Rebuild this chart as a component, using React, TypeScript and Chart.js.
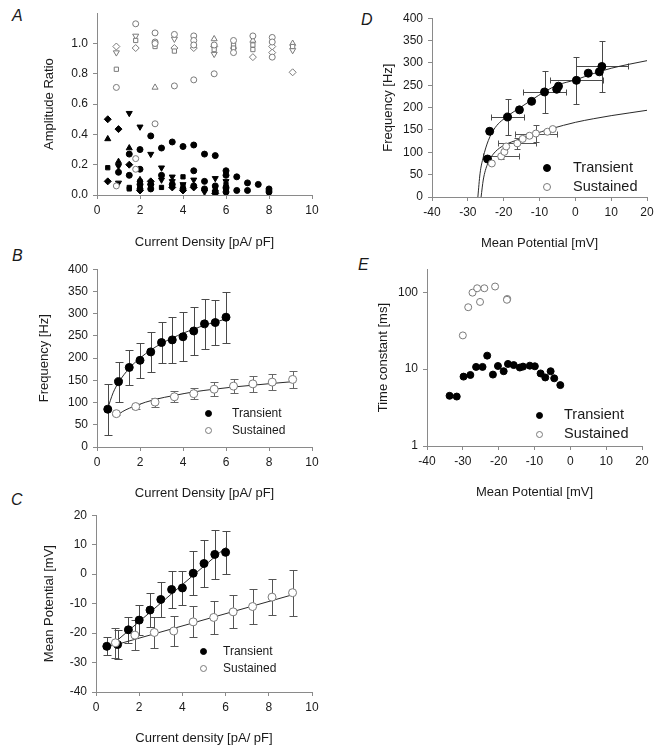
import React, { useEffect, useRef } from "react";
import { Chart, registerables } from "chart.js";
Chart.register(...registerables);

const FONT = "'Liberation Sans', Arial, Helvetica, sans-serif";
const AXIS = "#8a8a8a";
const TEXT = "#1a1a1a";
const OPEN = "#7a7a7a";

// ---------------- Panel A: amplitude ratio (filled = transient, open = sustained) ----------------
const aTrCircle = [[1,0.15],[1.5,0.27],[1.5,0.13],[2,0.30],[2,0.17],[2,0.07],[2,0.04],[2.5,0.39],[2.5,0.07],[2.5,0.04],[3,0.31],[3,0.13],[3.5,0.35],[3.5,0.07],[4,0.32],[4,0.04],[4.5,0.33],[4.5,0.16],[4.5,0.06],[5,0.27],[5,0.09],[5,0.04],[5.5,0.26],[5.5,0.06],[5.5,0.02],[6,0.16],[6,0.13],[6,0.05],[6,0.02],[6.5,0.12],[6.5,0.03],[7,0.08],[7,0.03],[7.5,0.07],[8,0.04],[8,0.02]];
const aTrSquare = [[0.5,0.18],[1.5,0.05],[1.5,0.04],[2,0.09],[2,0.05],[2.5,0.06],[3,0.05],[3.5,0.06],[4,0.12],[4,0.06],[5.5,0.04],[6,0.07]];
const aTrDiamond = [[0.5,0.50],[0.5,0.09],[1,0.435],[1.5,0.20],[2,0.03],[2.5,0.09],[3.5,0.05],[4,0.03],[4.5,0.05],[5.5,0.01]];
const aTrTriangle = [[0.5,0.37],[1,0.22],[1.5,0.31],[2,0.10],[2.5,0.08]];
const aTrInvTri = [[1,0.19],[1,0.08],[1.5,0.54],[2,0.45],[2.5,0.27],[3,0.18],[3,0.10],[3.5,0.12],[3.5,0.09],[4,0.07],[4.5,0.10],[5,0.02],[5.5,0.11],[5.5,0.02],[6,0.09],[6,0.03],[8,0.02]];
const aSusCircle = [[0.9,0.71],[0.9,0.06],[1.8,1.13],[1.8,0.24],[1.8,0.17],[2.7,1.07],[2.7,1.01],[2.7,1.00],[2.7,0.47],[3.6,1.06],[3.6,0.72],[4.5,1.05],[4.5,1.02],[4.5,0.99],[4.5,0.76],[5.45,0.99],[5.45,0.80],[6.35,1.02],[6.35,0.94],[7.25,1.05],[8.15,1.04],[8.15,1.01],[8.15,0.91]];
const aSusSquare = [[0.9,0.83],[1.8,1.02],[2.7,0.98],[3.6,0.95],[5.45,0.96],[6.35,0.99],[6.35,0.97],[7.25,0.99],[7.25,0.96],[9.1,0.98]];
const aSusDiamond = [[0.9,0.98],[1.8,0.97],[3.6,0.97],[4.5,0.97],[5.45,0.98],[7.25,0.91],[8.15,0.98],[8.15,0.94],[9.1,0.81]];
const aSusTriangle = [[2.7,0.71],[5.45,1.03],[7.25,1.02],[9.1,1.00]];
const aSusInvTri = [[0.9,0.94],[1.8,1.05],[3.6,1.03],[5.45,0.93],[6.35,0.96],[9.1,0.955]];

// ---------------- Transient / sustained summary data (panels B, C, D) ----------------
const trCurrent = [0.5, 1, 1.5, 2, 2.5, 3, 3.5, 4, 4.5, 5, 5.5, 6];
const trFreq = [85, 147, 179, 195, 214, 235, 241, 248, 261, 277, 280, 292];
const trFreqErr = [57, 45, 40, 40, 45, 46, 52, 55, 53, 56, 51, 57];
const trPot = [-24.5, -23.9, -18.9, -15.6, -12.2, -8.6, -5.2, -4.7, 0.3, 3.6, 6.7, 7.4];
const trPotErr = [3, 5, 4.5, 5, 5.7, 6, 6.3, 5.8, 7.4, 8, 8.4, 7.3];

const susCurrent = [0.9, 1.8, 2.7, 3.6, 4.5, 5.45, 6.35, 7.25, 8.15, 9.1];
const susFreq = [75, 91, 101, 113, 120, 130, 137, 142, 146, 152];
const susFreqErr = [4, 6, 10, 12, 13, 16, 16, 18, 18, 19];
const susPot = [-23.3, -20.7, -19.8, -19.3, -16.2, -14.7, -12.8, -11, -7.8, -6.3];
const susPotErr = [5, 5, 5.3, 5, 5.3, 5.5, 5.6, 5.8, 6.2, 7.8];

// fitted curves
const bTrFitX = [0.5, 0.75, 1, 1.5, 2, 2.5, 3, 3.5, 4, 4.5, 5, 5.5, 6];
const bTrFitY = [87, 122, 145, 177, 200, 218, 233, 245, 256, 265, 274, 281, 288];
const bSusFitX = [0.9, 1.2, 1.8, 2.7, 3.6, 4.5, 5.45, 6.35, 7.25, 8.15, 9.1];
const bSusFitY = [70, 80, 93, 107, 116, 124, 130, 135, 139, 143, 147];

const cTrFitX = [0.5, 6];
const cTrFitY = [-25.5, 9];
const cSusFitX = [0.9, 9.1];
const cSusFitY = [-24, -7];

const dTrFitX = [-27.2, -26.6, -25.7, -24.3, -22.4, -18.9, -15.4, -12.2, -8.5, -4.75, 0, 5, 10, 15, 20];
const dTrFitY = [0, 52, 89, 126, 155, 181, 200, 217, 236, 251, 262, 276, 288, 297, 305];
const dSusFitX = [-26.3, -25.7, -24.5, -22.9, -20.5, -16.8, -12.2, -6.6, 0, 5, 10, 15, 20];
const dSusFitY = [0, 38, 74, 96, 113, 126, 139, 153, 167, 175, 182, 188, 194];
const dTrErrIndex = [2, 5, 8, 11];
const dSusErrIndex = [1, 4, 7];

// ---------------- Panel E: time constants ----------------
const eTrPot = [-33.7, -31.7, -29.8, -27.9, -26.3, -24.5, -23.2, -21.6, -20.2, -18.6, -17.4, -15.8, -14.1, -13.2, -11.3, -9.9, -8.3, -7.0, -5.5, -4.5, -2.8];
const eTrTau = [4.5, 4.4, 8.0, 8.4, 10.7, 10.7, 15, 8.5, 11, 9.4, 11.7, 11.3, 10.5, 10.8, 11.1, 10.9, 8.8, 7.8, 9.4, 7.6, 6.2];
const eSusPot = [-30.0, -28.5, -27.3, -26.0, -25.2, -24.0, -21.0, -17.6, -17.7];
const eSusTau = [27.5, 64, 99, 113, 75, 113, 119, 82, 80];

// ---------------- helpers ----------------
const pairs = (a: number[][]) => a.map(([x, y]) => ({ x, y }));
const zip = (xs: number[], ys: number[]) => xs.map((x, i) => ({ x, y: ys[i] }));

const errorBarPlugin = {
  id: "errorBars",
  beforeDatasetsDraw(chart: any) {
    const { ctx } = chart;
    const xs = chart.scales.x;
    const ys = chart.scales.y;
    chart.data.datasets.forEach((ds: any) => {
      const eb = ds.errorBars;
      if (!eb) return;
      ctx.save();
      ctx.strokeStyle = eb.color;
      ctx.lineWidth = 1;
      const cap = eb.cap;
      ds.data.forEach((p: any, j: number) => {
        if (eb.only && !eb.only.includes(j)) return;
        const px = Math.round(xs.getPixelForValue(p.x)) + 0.5;
        const py = Math.round(ys.getPixelForValue(p.y)) + 0.5;
        ctx.beginPath();
        if (eb.y) {
          const t = Math.round(ys.getPixelForValue(p.y + eb.y[j])) + 0.5;
          const b = Math.round(ys.getPixelForValue(p.y - eb.y[j])) + 0.5;
          ctx.moveTo(px, t); ctx.lineTo(px, b);
          ctx.moveTo(px - cap, t); ctx.lineTo(px + cap, t);
          ctx.moveTo(px - cap, b); ctx.lineTo(px + cap, b);
        }
        if (eb.x) {
          const l = Math.round(xs.getPixelForValue(p.x - eb.x[j])) + 0.5;
          const r = Math.round(xs.getPixelForValue(p.x + eb.x[j])) + 0.5;
          ctx.moveTo(l, py); ctx.lineTo(r, py);
          ctx.moveTo(l, py - cap); ctx.lineTo(l, py + cap);
          ctx.moveTo(r, py - cap); ctx.lineTo(r, py + cap);
        }
        ctx.stroke();
      });
      ctx.restore();
    });
  },
};

interface Spec { L: number; T: number; R: number; B: number; yW: number; xH: number; padTop: number; padRight: number; }

function axis(o: any) {
  const ticks: any = { color: TEXT, font: { family: FONT, size: 12 }, padding: o.pad, autoSkip: false, maxRotation: 0 };
  if (o.step !== undefined) ticks.stepSize = o.step;
  if (o.cb) ticks.callback = o.cb;
  const ax: any = {
    type: o.type || "linear",
    min: o.min,
    max: o.max,
    ticks,
    grid: { display: true, drawOnChartArea: false, drawTicks: true, tickLength: 4, color: AXIS, lineWidth: 1 },
    border: { display: true, color: AXIS, width: 1 },
    title: { display: true, text: o.title, color: TEXT, font: { family: FONT, size: 13 }, padding: 0 },
    afterFit: o.afterFit,
  };
  if (o.afterBuildTicks) ax.afterBuildTicks = o.afterBuildTicks;
  return ax;
}

function baseOptions(spec: Spec, x: any, y: any) {
  return {
    animation: false,
    responsive: false,
    maintainAspectRatio: false,
    layout: { padding: { top: spec.padTop, right: spec.padRight, left: 0, bottom: 0 } },
    plugins: { legend: { display: false }, tooltip: { enabled: false } },
    scales: {
      x: axis({ ...x, pad: 4, afterFit: (s: any) => { s.height = spec.xH; } }),
      y: axis({ ...y, pad: 5, afterFit: (s: any) => { s.width = spec.yW; } }),
    },
  };
}

function pts(data: any[], style: string, filled: boolean, r: number, extra: any = {}) {
  return {
    type: "scatter",
    data,
    pointStyle: style,
    pointRadius: r,
    pointBackgroundColor: filled ? "#000" : "#fff",
    pointBorderColor: filled ? "#000" : OPEN,
    pointBorderWidth: 1,
    showLine: false,
    order: 1,
    ...extra,
  };
}

function fit(data: any[], extra: any = {}) {
  return {
    type: "scatter",
    data,
    showLine: true,
    pointRadius: 0,
    borderColor: "#2a2a2a",
    borderWidth: 1,
    fill: false,
    cubicInterpolationMode: "monotone",
    order: 2,
    ...extra,
  };
}

function ChartPanel({ spec, build }: { spec: Spec; build: () => any }) {
  const ref = useRef<HTMLCanvasElement>(null);
  const left = spec.L - spec.yW;
  const top = spec.T - spec.padTop;
  const width = spec.R - spec.L + spec.yW + spec.padRight;
  const height = spec.B - spec.T + spec.padTop + spec.xH;
  useEffect(() => {
    const chart = new Chart(ref.current as HTMLCanvasElement, build());
    return () => chart.destroy();
  }, []);
  return (
    <canvas ref={ref} width={width} height={height}
      style={{ position: "absolute", left, top, width, height }} />
  );
}

// ---------------- panel specs ----------------
const specA: Spec = { L: 97, T: 11, R: 312, B: 195, yW: 55, xH: 55, padTop: 10, padRight: 14 };
const specB: Spec = { L: 97, T: 267, R: 312, B: 447, yW: 60, xH: 54, padTop: 10, padRight: 14 };
const specC: Spec = { L: 96, T: 513, R: 312, B: 692, yW: 54, xH: 54, padTop: 10, padRight: 14 };
const specD: Spec = { L: 432, T: 16, R: 647, B: 197, yW: 51, xH: 54, padTop: 10, padRight: 14 };
const specE: Spec = { L: 427, T: 267, R: 642, B: 446, yW: 51, xH: 54, padTop: 10, padRight: 14 };

const buildA = () => ({
  type: "scatter",
  data: {
    datasets: [
      pts(pairs(aSusCircle), "circle", false, 3),
      pts(pairs(aSusSquare), "rect", false, 3),
      pts(pairs(aSusDiamond), "rectRot", false, 3.5),
      pts(pairs(aSusTriangle), "triangle", false, 3.5),
      pts(pairs(aSusInvTri), "triangle", false, 3.5, { pointRotation: 180 }),
      pts(pairs(aTrCircle), "circle", true, 3),
      pts(pairs(aTrSquare), "rect", true, 3),
      pts(pairs(aTrDiamond), "rectRot", true, 3.5),
      pts(pairs(aTrTriangle), "triangle", true, 3.5),
      pts(pairs(aTrInvTri), "triangle", true, 3.5, { pointRotation: 180 }),
    ],
  },
  options: baseOptions(
    specA,
    { min: 0, max: 10, step: 2, title: "Current Density [pA/ pF]" },
    {
      min: 0, max: 1.2, step: 0.2, title: "Amplitude Ratio",
      cb: (v: any) => Number(v).toFixed(1),
      afterBuildTicks: (s: any) => { s.ticks = s.ticks.filter((t: any) => t.value <= 1.0001); },
    }
  ),
});

const buildB = () => ({
  type: "scatter",
  data: {
    datasets: [
      fit(zip(bTrFitX, bTrFitY)),
      fit(zip(bSusFitX, bSusFitY)),
      pts(zip(susCurrent, susFreq), "circle", false, 4, { errorBars: { y: susFreqErr, color: "#666", cap: 4 } }),
      pts(zip(trCurrent, trFreq), "circle", true, 4, { errorBars: { y: trFreqErr, color: "#4a4a4a", cap: 4 } }),
    ],
  },
  options: baseOptions(
    specB,
    { min: 0, max: 10, step: 2, title: "Current Density [pA/ pF]" },
    { min: 0, max: 400, step: 50, title: "Frequency [Hz]" }
  ),
  plugins: [errorBarPlugin],
});

const buildC = () => ({
  type: "scatter",
  data: {
    datasets: [
      fit(zip(cTrFitX, cTrFitY), { cubicInterpolationMode: "default" }),
      fit(zip(cSusFitX, cSusFitY), { cubicInterpolationMode: "default" }),
      pts(zip(susCurrent, susPot), "circle", false, 4, { errorBars: { y: susPotErr, color: "#555", cap: 4 } }),
      pts(zip(trCurrent, trPot), "circle", true, 4, { errorBars: { y: trPotErr, color: "#4a4a4a", cap: 4 } }),
    ],
  },
  options: baseOptions(
    specC,
    { min: 0, max: 10, step: 2, title: "Current density [pA/ pF]" },
    { min: -40, max: 20, step: 10, title: "Mean Potential [mV]" }
  ),
  plugins: [errorBarPlugin],
});

const buildD = () => ({
  type: "scatter",
  data: {
    datasets: [
      fit(zip(dTrFitX, dTrFitY)),
      fit(zip(dSusFitX, dSusFitY)),
      pts(zip(susPot, susFreq), "circle", false, 3.5, { errorBars: { x: susPotErr, y: susFreqErr, only: dSusErrIndex, color: "#555", cap: 3 } }),
      pts(zip(trPot, trFreq), "circle", true, 4, { errorBars: { x: trPotErr, y: trFreqErr, only: dTrErrIndex, color: "#4a4a4a", cap: 3 } }),
    ],
  },
  options: baseOptions(
    specD,
    { min: -40, max: 20, step: 10, title: "Mean Potential [mV]" },
    { min: 0, max: 400, step: 50, title: "Frequency [Hz]" }
  ),
  plugins: [errorBarPlugin],
});

const buildE = () => ({
  type: "scatter",
  data: {
    datasets: [
      pts(zip(eSusPot, eSusTau), "circle", false, 3.5),
      pts(zip(eTrPot, eTrTau), "circle", true, 3.5),
    ],
  },
  options: baseOptions(
    specE,
    { min: -40, max: 20, step: 10, title: "Mean Potential [mV]" },
    {
      type: "logarithmic", min: 1, max: 200, title: "Time constant [ms]",
      cb: (v: any) => String(v),
      afterBuildTicks: (s: any) => { s.ticks = s.ticks.filter((t: any) => [1, 10, 100].includes(t.value)); },
    }
  ),
});

function Letter({ ch, x, y }: { ch: string; x: number; y: number }) {
  return (
    <div style={{ position: "absolute", left: x - 6, top: y - 10, font: `italic 16px ${FONT}`, color: TEXT, lineHeight: "20px" }}>{ch}</div>
  );
}

function LegendRow({ x, y, textX, filled, label, size, dot }: any) {
  return (
    <>
      <div style={{
        position: "absolute", left: x - dot / 2, top: y - dot / 2, width: dot, height: dot, borderRadius: "50%",
        boxSizing: "border-box", background: filled ? "#000" : "#fff", border: `1px solid ${filled ? "#000" : OPEN}`,
      }} />
      <div style={{ position: "absolute", left: textX, top: y - size * 0.6, font: `${size}px ${FONT}`, lineHeight: `${size * 1.2}px`, color: TEXT, whiteSpace: "nowrap" }}>{label}</div>
    </>
  );
}

export default function App() {
  return (
    <div style={{ position: "absolute", left: 0, top: 0, width: 668, height: 756, background: "#fff", overflow: "hidden" }}>
      <ChartPanel spec={specA} build={buildA} />
      <ChartPanel spec={specB} build={buildB} />
      <ChartPanel spec={specC} build={buildC} />
      <ChartPanel spec={specD} build={buildD} />
      <ChartPanel spec={specE} build={buildE} />
      <Letter ch="A" x={18} y={16} />
      <Letter ch="B" x={18} y={256} />
      <Letter ch="C" x={17} y={500} />
      <Letter ch="D" x={367} y={20} />
      <Letter ch="E" x={364} y={265} />
      <LegendRow x={208} y={413} textX={232} filled label="Transient" size={12} dot={7} />
      <LegendRow x={208} y={430} textX={232} filled={false} label="Sustained" size={12} dot={7} />
      <LegendRow x={203} y={651} textX={223} filled label="Transient" size={12} dot={7} />
      <LegendRow x={203} y={668} textX={223} filled={false} label="Sustained" size={12} dot={7} />
      <LegendRow x={547} y={168} textX={573} filled label="Transient" size={14.5} dot={8} />
      <LegendRow x={547} y={187} textX={573} filled={false} label="Sustained" size={14.5} dot={8} />
      <LegendRow x={539} y={415} textX={564} filled label="Transient" size={14.5} dot={7} />
      <LegendRow x={539} y={434} textX={564} filled={false} label="Sustained" size={14.5} dot={7} />
    </div>
  );
}
